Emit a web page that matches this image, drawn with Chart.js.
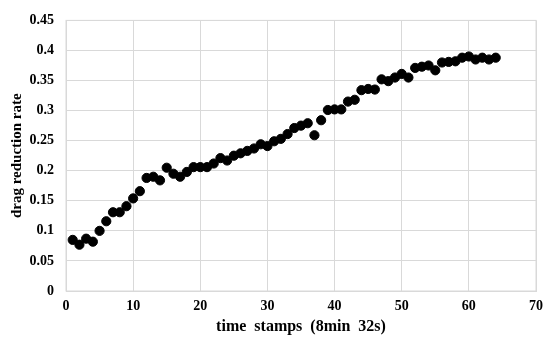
<!DOCTYPE html>
<html lang="en">
<head>
  <meta charset="UTF-8" />
  <title>drag reduction rate</title>
  <script src="https://cdn.jsdelivr.net/npm/chart.js"></script>
  <style>
    html, body { margin: 0; padding: 0; background: #fff; }
    #wrap { width: 550px; height: 342px; }
  </style>
</head>
<body>
  <div id="wrap"><canvas id="dragChart" width="550" height="342"></canvas></div>

  <script>
    // time stamp index (1 stamp = 8min 32s)
    const timeStamps = [];
    for (let i = 1; i <= 64; i++) timeStamps.push(i);

    // drag reduction rate
    const dragReduction = [
      0.085, 0.077, 0.087, 0.082, 0.100, 0.116, 0.131, 0.131, 0.141, 0.154,
      0.166, 0.188, 0.190, 0.184, 0.205, 0.195, 0.190, 0.198, 0.206, 0.206,
      0.206, 0.212, 0.221, 0.217, 0.225, 0.229, 0.233, 0.237, 0.244, 0.241,
      0.249, 0.253, 0.261, 0.271, 0.275, 0.279, 0.259, 0.284, 0.301, 0.302,
      0.302, 0.315, 0.318, 0.334, 0.336, 0.335, 0.352, 0.349, 0.355, 0.361,
      0.355, 0.371, 0.373, 0.375, 0.367, 0.380, 0.381, 0.382, 0.388, 0.390,
      0.385, 0.388, 0.385, 0.388
    ];

    const xTicks = [0, 10, 20, 30, 40, 50, 60, 70];
    const yTicks = [0, 0.05, 0.1, 0.15, 0.2, 0.25, 0.3, 0.35, 0.4, 0.45];

    const serif = "'Liberation Serif', 'Times New Roman', serif";
    const tickFont = { family: serif, size: 14, weight: 'bold' };

    new Chart(document.getElementById('dragChart'), {
      type: 'scatter',
      data: {
        datasets: [{
          data: timeStamps.map((t, i) => ({ x: t, y: dragReduction[i] })),
          backgroundColor: '#000',
          borderColor: '#000',
          pointRadius: 4.6,
          pointHoverRadius: 4.6
        }]
      },
      options: {
        responsive: false,
        animation: false,
        layout: { padding: { left: 4, right: 14, top: 17, bottom: 2 } },
        plugins: { legend: { display: false }, tooltip: { enabled: false } },
        scales: {
          x: {
            type: 'linear',
            min: 0, max: 70,
            afterBuildTicks: s => { s.ticks = xTicks.map(v => ({ value: v })); },
            ticks: { color: '#000', font: tickFont, padding: 7, maxRotation: 0 },
            grid: { color: '#d9d9d9', lineWidth: 1, drawTicks: false },
            border: { color: '#d9d9d9' },
            title: { display: true, text: 'time  stamps  (8min  32s)', color: '#000', font: { family: serif, size: 16, weight: 'bold' }, padding: { top: 6 } },
            afterFit: s => { s.height = 49; }
          },
          y: {
            min: 0, max: 0.45,
            afterBuildTicks: s => { s.ticks = yTicks.map(v => ({ value: v })); },
            ticks: { color: '#000', font: tickFont, padding: 12, callback: v => String(+v.toFixed(2)) },
            grid: { color: '#d9d9d9', lineWidth: 1, drawTicks: false },
            border: { color: '#d9d9d9' },
            title: { display: true, text: 'drag reduction rate', color: '#000', font: { family: serif, size: 15, weight: 'bold' }, padding: { bottom: 4 } },
            afterFit: s => { s.width = 62; }
          }
        }
      },
      plugins: [{
        id: 'frame',
        afterDraw(chart) {
          const { ctx, chartArea: a } = chart;
          ctx.save();
          ctx.strokeStyle = '#d9d9d9';
          ctx.lineWidth = 1;
          ctx.strokeRect(a.left, a.top, a.right - a.left, a.bottom - a.top);
          ctx.restore();
        }
      }]
    });
  </script>
</body>
</html>
